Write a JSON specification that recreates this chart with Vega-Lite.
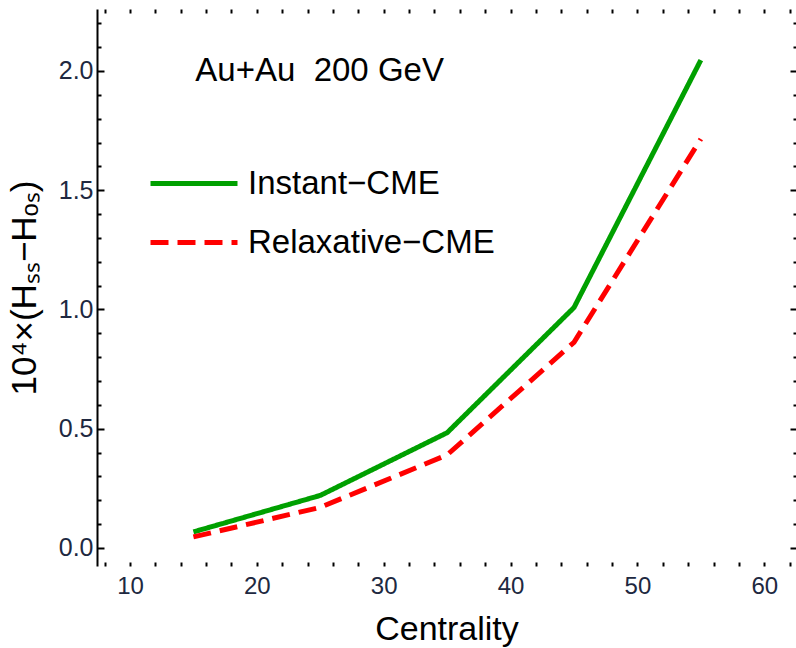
{
  "$schema": "https://vega.github.io/schema/vega-lite/v6.json",
  "width": 699,
  "height": 557,
  "autosize": {"type": "none"},
  "padding": {"left": 97, "top": 9, "right": 0, "bottom": 82},
  "background": "white",
  "config": {
    "view": {"stroke": null},
    "font": "Liberation Sans",
    "axis": {"grid": false}
  },
  "data": {
    "values": [
      {"centrality": 15, "value": 0.067, "model": "Instant−CME"},
      {"centrality": 25, "value": 0.22, "model": "Instant−CME"},
      {"centrality": 35, "value": 0.483, "model": "Instant−CME"},
      {"centrality": 45, "value": 1.008, "model": "Instant−CME"},
      {"centrality": 55, "value": 2.046, "model": "Instant−CME"},
      {"centrality": 15, "value": 0.046, "model": "Relaxative−CME"},
      {"centrality": 25, "value": 0.17, "model": "Relaxative−CME"},
      {"centrality": 35, "value": 0.39, "model": "Relaxative−CME"},
      {"centrality": 45, "value": 0.862, "model": "Relaxative−CME"},
      {"centrality": 55, "value": 1.715, "model": "Relaxative−CME"}
    ]
  },
  "layer": [
    {
      "mark": {"type": "line", "strokeWidth": 5},
      "encoding": {
        "x": {
          "field": "centrality",
          "type": "quantitative",
          "scale": {"domain": [7.4, 62.5], "nice": false, "zero": false},
          "axis": {
            "orient": "bottom",
            "title": "Centrality",
            "values": [8, 10, 12, 14, 16, 18, 20, 22, 24, 26, 28, 30, 32, 34, 36, 38, 40, 42, 44, 46, 48, 50, 52, 54, 56, 58, 60, 62],
            "labelExpr": "datum.value % 10 === 0 ? datum.label : ''",
            "domain": false,
            "tickSize": -4,
            "tickWidth": 2,
            "tickColor": "black",
            "labelFontSize": 24,
            "labelColor": "#202840",
            "labelPadding": 12,
            "labelFlush": false,
            "titleFontSize": 34,
            "titleFontWeight": "normal",
            "titleColor": "black",
            "titlePadding": 14
          }
        },
        "y": {
          "field": "value",
          "type": "quantitative",
          "scale": {"domain": [-0.076, 2.26], "nice": false, "zero": false},
          "axis": {
            "orient": "left",
            "title": "10⁴×(Hₛₛ−Hₒₛ)",
            "values": [0, 0.1, 0.2, 0.3, 0.4, 0.5, 0.6, 0.7, 0.8, 0.9, 1.0, 1.1, 1.2, 1.3, 1.4, 1.5, 1.6, 1.7, 1.8, 1.9, 2.0, 2.1, 2.2],
            "format": ".1f",
            "labelExpr": "abs(datum.value * 2 - round(datum.value * 2)) < 0.001 ? datum.label : ''",
            "domain": true,
            "domainColor": "black",
            "domainWidth": 2,
            "tickSize": {"condition": {"test": "abs(datum.value * 2 - round(datum.value * 2)) < 0.001", "value": -7}, "value": -4},
            "tickWidth": 2,
            "tickColor": "black",
            "labelFontSize": 25,
            "labelColor": "#202840",
            "labelPadding": 11,
            "labelFlush": false,
            "titleFontSize": 35,
            "titleFontWeight": "normal",
            "titleColor": "black",
            "titlePadding": 16
          }
        },
        "color": {
          "field": "model",
          "type": "nominal",
          "scale": {"domain": ["Instant−CME", "Relaxative−CME"], "range": ["#00a000", "#ff0000"]},
          "legend": {
            "orient": "none",
            "legendX": 51,
            "legendY": 156,
            "title": null,
            "padding": 0,
            "symbolType": "stroke",
            "symbolSize": 7569,
            "symbolStrokeWidth": 5,
            "clipHeight": 37,
            "rowPadding": 22,
            "labelFontSize": 33,
            "labelColor": "black",
            "labelOffset": 8,
            "labelLimit": 500
          }
        },
        "strokeDash": {
          "field": "model",
          "type": "nominal",
          "scale": {"domain": ["Instant−CME", "Relaxative−CME"], "range": [[1, 0], [18, 9]]},
          "legend": {
            "orient": "none",
            "legendX": 51,
            "legendY": 156,
            "title": null,
            "padding": 0,
            "symbolType": "stroke",
            "symbolSize": 7569,
            "symbolStrokeWidth": 5,
            "clipHeight": 37,
            "rowPadding": 22,
            "labelFontSize": 33,
            "labelColor": "black",
            "labelOffset": 8,
            "labelLimit": 500
          }
        }
      }
    },
    {
      "mark": {"type": "point", "opacity": 0},
      "encoding": {
        "x": {
          "field": "centrality",
          "type": "quantitative",
          "axis": {
            "orient": "top",
            "title": null,
            "labels": false,
            "domain": false,
            "values": [8, 10, 12, 14, 16, 18, 20, 22, 24, 26, 28, 30, 32, 34, 36, 38, 40, 42, 44, 46, 48, 50, 52, 54, 56, 58, 60, 62],
            "tickSize": -4,
            "tickWidth": 2,
            "tickColor": "black"
          }
        },
        "y": {
          "field": "value",
          "type": "quantitative",
          "axis": {
            "orient": "right",
            "title": null,
            "labels": false,
            "domain": false,
            "values": [0, 0.1, 0.2, 0.3, 0.4, 0.5, 0.6, 0.7, 0.8, 0.9, 1.0, 1.1, 1.2, 1.3, 1.4, 1.5, 1.6, 1.7, 1.8, 1.9, 2.0, 2.1, 2.2],
            "tickSize": {"condition": {"test": "abs(datum.value * 2 - round(datum.value * 2)) < 0.001", "value": -6}, "value": -3},
            "tickWidth": 2,
            "tickColor": "black"
          }
        }
      }
    },
    {
      "data": {"values": [{"note": "Au+Au\u00a0\u00a0200 GeV"}]},
      "mark": {"type": "text", "align": "left", "baseline": "middle", "fontSize": 33, "color": "black"},
      "encoding": {
        "x": {"datum": 15.15, "type": "quantitative", "axis": null},
        "y": {"datum": 2.0, "type": "quantitative", "axis": null},
        "text": {"field": "note"}
      }
    }
  ],
  "resolve": {"axis": {"x": "independent", "y": "independent"}}
}
